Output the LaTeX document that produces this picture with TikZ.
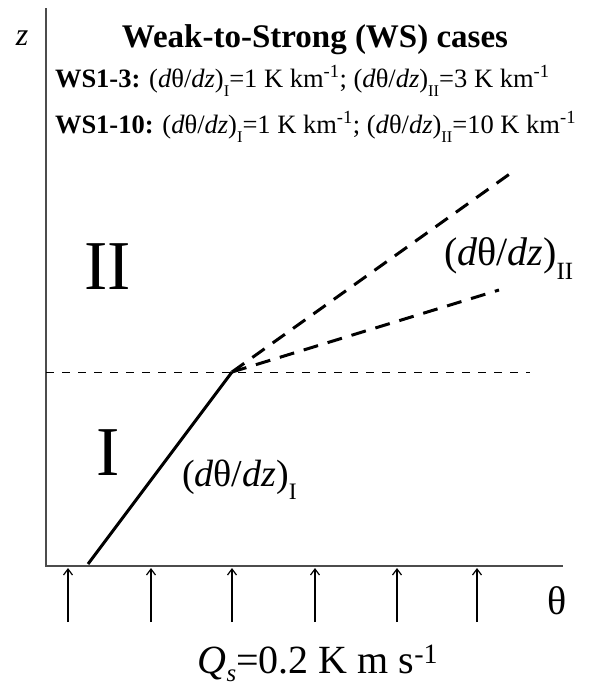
\documentclass[tikz,border=0pt]{standalone}
\usepackage{fontspec}
\setmainfont{Liberation Serif}
\usetikzlibrary{arrows.meta}
\newcommand{\fs}[1]{\fontsize{#1}{#1}\selectfont}
\newcommand{\dtdz}{(\textit{d}θ/\textit{dz})}
\newcommand{\lsub}[1]{\raisebox{-0.35em}{\scalebox{0.62}{#1}}}
\newcommand{\ssub}[1]{\raisebox{-0.22em}{\scalebox{0.62}{#1}}}
\tikzset{
  axisline/.style={draw=black!70, line width=1.2pt},
  profile/.style={draw=black, line width=3pt},
  profdash/.style={draw=black, line width=3pt, dash pattern=on 15pt off 10pt},
  interface/.style={draw=black, line width=1pt, dash pattern=on 8pt off 8pt},
  flux/.style={draw=black, line width=1.3pt, -{Straight Barb[length=6pt,width=9pt,line width=1.2pt]}},
  lbl/.style={inner sep=0pt, outer sep=0pt}
}
\begin{document}
\begin{tikzpicture}[x=1pt,y=-1pt]
\useasboundingbox (0,0) rectangle (591,686);
% axes
\coordinate (top) at (46,8);
\coordinate (orig) at (46,566);
\coordinate (xend) at (563,566);
\draw[axisline] (top) -- (orig) -- (xend);
% interface
\coordinate (ifl) at (46,372);
\coordinate (ifr) at (530,372);
\draw[interface] (ifl) -- (ifr);
% profiles
\coordinate (base) at (88,564);
\coordinate (kink) at (232,372);
\coordinate (up) at (511,173);
\coordinate (lo) at (499,290);
\draw[profile] (base) -- (kink);
\draw[profdash] (kink) -- (up);
\draw[profdash] (kink) -- (lo);
% flux arrows
\foreach \i/\x in {1/68,2/151,3/232,4/315,5/397,6/477}{
  \coordinate (fb\i) at (\x,622);
  \coordinate (ft\i) at (\x,568);
  \draw[flux] (fb\i) -- (ft\i);
}
% labels
\node[lbl, anchor=base] (zl) at (22,45) {\fs{32}\textit{z}};
\node[lbl, anchor=base] (title) at (315,47) {\fs{33}\textbf{Weak-to-Strong (WS) cases}};
\node[lbl, anchor=base west] (ws13) at (55,87) {\fs{26.5}\textbf{WS1-3:} \dtdz\lsub{I}=1 K km\textsuperscript{-1}; \dtdz\lsub{II}=3 K km\textsuperscript{-1}};
\node[lbl, anchor=base west] (ws110) at (55,133) {\fs{26.5}\textbf{WS1-10:} \dtdz\lsub{I}=1 K km\textsuperscript{-1}; \dtdz\lsub{II}=10 K km\textsuperscript{-1}};
\node[lbl, anchor=base] (regII) at (108,289) {\fs{70}II};
\node[lbl, anchor=base] (regI) at (108,475) {\fs{70}I};
\node[lbl, anchor=base west] (gI) at (182,486) {\fs{38}\dtdz\lsub{I}};
\node[lbl, anchor=base west] (gII) at (444,265) {\fs{40}\dtdz\lsub{II}};
\node[lbl, anchor=base] (theta) at (557,614) {\fs{40}θ};
\node[lbl, anchor=base] (qs) at (318,673) {\fs{40}\textit{Q}\ssub{\textit{s}}=0.2 K m s\textsuperscript{-1}};
\end{tikzpicture}
\end{document}
